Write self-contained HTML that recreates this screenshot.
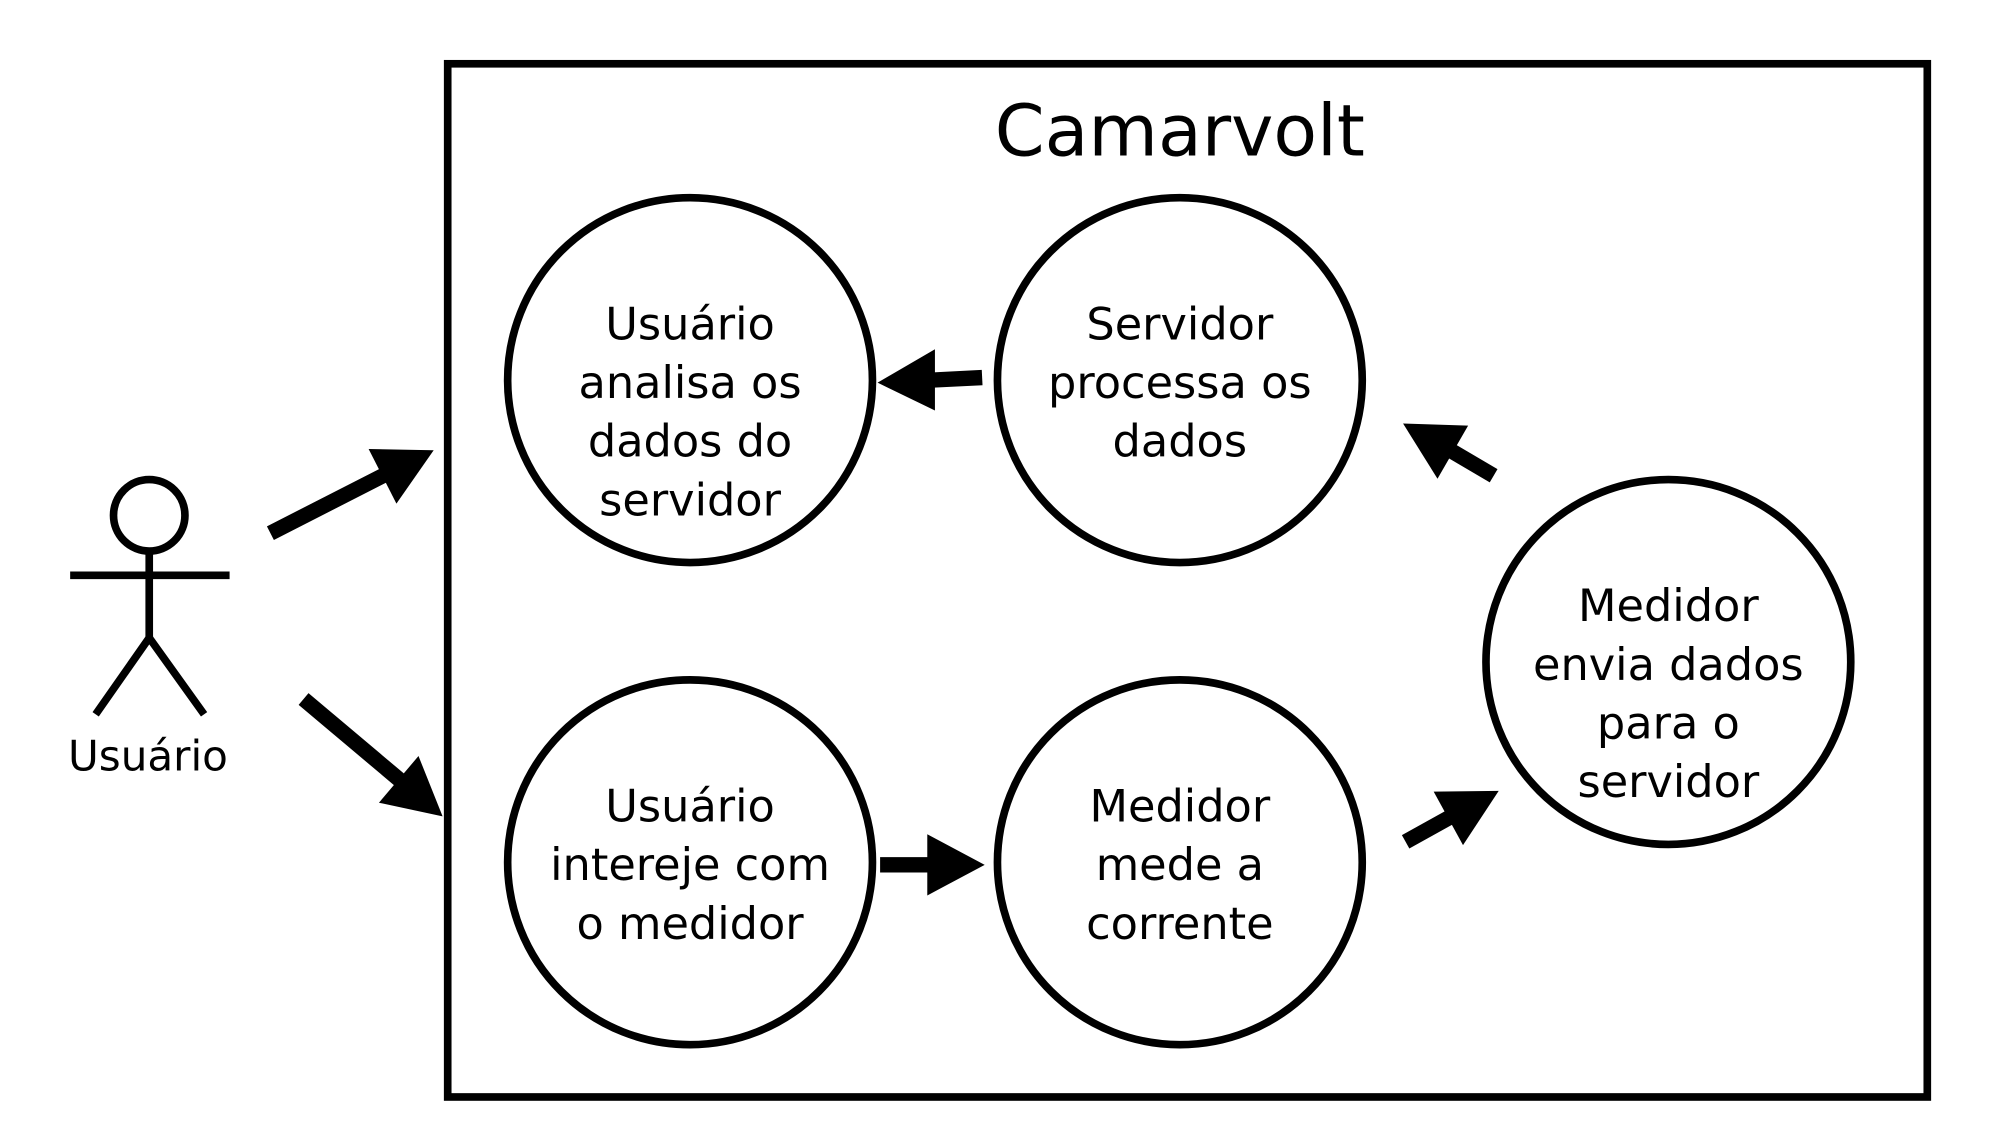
<!DOCTYPE html>
<html><head><meta charset="utf-8"><style>
html,body{margin:0;padding:0;background:#fff;}
svg{display:block;}
text{font-family:"DejaVu Sans","Liberation Sans",sans-serif;fill:#000;text-anchor:middle;}
</style></head><body>
<svg width="2000" height="1148" viewBox="0 0 1568 900" preserveAspectRatio="none" xmlns="http://www.w3.org/2000/svg">
<rect x="351" y="50" width="1160" height="810" fill="none" stroke="#000" stroke-width="6"/>
<text x="925" y="122" font-size="56">Camarvolt</text>
<g fill="none" stroke="#000" stroke-width="6">
<circle cx="541" cy="298" r="143"/>
<circle cx="925" cy="298" r="143"/>
<circle cx="541" cy="676" r="143"/>
<circle cx="925" cy="676" r="143"/>
<circle cx="1308" cy="519" r="143"/>
<circle cx="117" cy="404" r="28"/>
<line x1="117" y1="432" x2="117" y2="500"/>
<line x1="55" y1="451" x2="180" y2="451"/>
<polyline points="75,560 117,500 160,560"/>
</g>
<g font-size="35">
<text x="541" y="266">Usuário</text><text x="541" y="312">analisa os</text><text x="541" y="358">dados do</text><text x="541" y="404">servidor</text>
<text x="925" y="266">Servidor</text><text x="925" y="312">processa os</text><text x="925" y="358">dados</text>
<text x="541" y="644">Usuário</text><text x="541" y="690">intereje com</text><text x="541" y="736">o medidor</text>
<text x="925" y="644">Medidor</text><text x="925" y="690">mede a</text><text x="925" y="736">corrente</text>
<text x="1308" y="487">Medidor</text><text x="1308" y="533">envia dados</text><text x="1308" y="579">para o</text><text x="1308" y="625">servidor</text>
<text x="116" y="604" font-size="33">Usuário</text>
</g>
<g stroke="#000" stroke-width="12">
<line x1="212" y1="418" x2="302" y2="372"/>
<line x1="238" y1="548" x2="314" y2="612"/>
<line x1="770" y1="296" x2="730" y2="298"/>
<line x1="1171" y1="373" x2="1137" y2="353"/>
<line x1="690" y1="678" x2="730" y2="678"/>
<line x1="1102" y1="660" x2="1138" y2="640"/>
</g>
<g fill="#000">
<polygon points="340,353 310.8,394.8 289,352"/>
<polygon points="347,640 297.1,629.3 328.1,592.7"/>
<polygon points="688,300 733,273.8 733,321.8"/>
<polygon points="1100,332 1151,333.7 1127,375.3"/>
<polygon points="772,678 727,654 727,702"/>
<polygon points="1175,620 1147,662.6 1124,620.6"/>
</g>
</svg>
</body></html>
